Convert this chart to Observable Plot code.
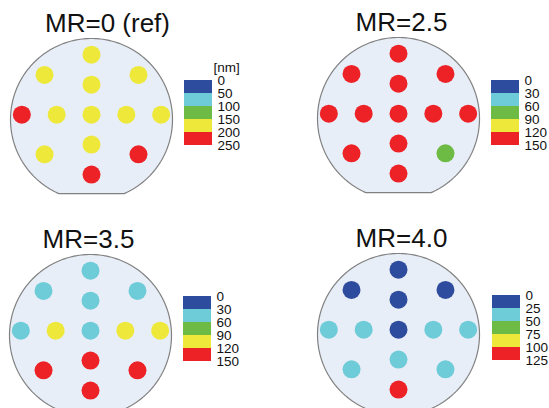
<!DOCTYPE html>
<html><head><meta charset="utf-8">
<script src="https://cdn.jsdelivr.net/npm/d3@7"></script>
<script src="https://cdn.jsdelivr.net/npm/@observablehq/plot@0.6"></script>
<style>
html,body{margin:0;padding:0;background:#fff;}
#chart{position:relative;width:549px;height:408px;overflow:hidden;font-family:"Liberation Sans",Arial,sans-serif;}
.title{position:absolute;width:200px;text-align:center;font-size:26px;line-height:26px;color:#111;white-space:nowrap;}
.abs{position:absolute;}
.abs svg{max-width:none !important;}
</style></head><body><div id="chart"></div>
<script>
// ---- data ----
const titles = ["MR=0 (ref)", "MR=2.5", "MR=3.5", "MR=4.0"];
const unitLabel = "[nm]";
const ticks0 = [0, 50, 100, 150, 200, 250];
const ticks1 = [0, 30, 60, 90, 120, 150];
const ticks2 = [0, 30, 60, 90, 120, 150];
const ticks3 = [0, 25, 50, 75, 100, 125];
// measurement sites on the wafer (mm, y up); order:
// top, upper, center, lower, bottom, left-outer, left-inner, right-inner, right-outer, UL, UR, LL, LR
const siteX = [0, 0, 0, 0, 0, -86, -43, 43, 86, -58, 58, -58, 58];
const siteY = [80, 43, 6, -31, -68, 6, 6, 6, 6, 55, 55, -43, -43];
const values0 = [185, 178, 172, 180, 215, 212, 176, 175, 182, 188, 186, 190, 210];
const values1 = [138, 135, 132, 136, 140, 141, 134, 133, 137, 139, 138, 142, 78];
const values2 = [48, 45, 42, 128, 136, 50, 102, 100, 106, 47, 46, 132, 130];
const values3 = [15, 12, 10, 32, 110, 40, 34, 33, 38, 18, 17, 36, 37];
const binColors = ["#2e4c9d", "#6ecbd8", "#6dbb45", "#ede83a", "#ed2227"];

// ---- layout / style ----
const PX = 0.81;            // px per mm
const R = 100, F = 91.5;     // wafer radius, flat distance (mm)
const W = 184, H = 180, CX = 92, CY = 90;
const layout = [
  {wafer: [90.5, 118.5], legend: [184, 80], title: [107.5, 31.5]},
  {wafer: [397.5, 117.5], legend: [491, 80], title: [401.5, 31]},
  {wafer: [89.5, 334.5], legend: [183, 296], title: [88.5, 248]},
  {wafer: [398, 333.5], legend: [492, 295], title: [401.5, 246.5]}
];
const allTicks = [ticks0, ticks1, ticks2, ticks3];
const allValues = [values0, values1, values2, values3];
const FONT = "Liberation Sans, Arial, sans-serif";

const alpha = Math.acos(F / R);
const outline = d3.range(0, 241).map(i => {
  const phi = -Math.PI / 2 + alpha + (2 * Math.PI - 2 * alpha) * i / 240;
  return {x: R * Math.cos(phi), y: R * Math.sin(phi)};
});

const chart = document.getElementById("chart");
const LM_TOP = 24, LM_BOT = 10, BOX_W = 28, BOX_H = 65, LW = 80;

titles.forEach((title, p) => {
  const ticks = allTicks[p];
  const vals = allValues[p];
  const L = layout[p];
  const color = {type: "threshold", domain: ticks.slice(1, -1), range: binColors};
  const sites = vals.map((v, i) => ({x: siteX[i], y: siteY[i], value: v}));

  const wafer = Plot.plot({
    width: W, height: H, margin: 0,
    style: {background: "none", overflow: "visible", fontFamily: FONT, maxWidth: "none"},
    x: {domain: [-CX / PX, (W - CX) / PX], range: [0, W], axis: null},
    y: {domain: [-(H - CY) / PX, CY / PX], range: [H, 0], axis: null},
    color,
    marks: [
      Plot.line(outline, {x: "x", y: "y", curve: "linear-closed", fill: "#e8eef7", stroke: "#808080", strokeWidth: 1.2}),
      Plot.dot(sites, {x: "x", y: "y", r: 9, fill: "value", stroke: "none"})
    ]
  });
  const wdiv = document.createElement("div");
  wdiv.className = "abs";
  wdiv.style.left = (L.wafer[0] - CX) + "px";
  wdiv.style.top = (L.wafer[1] - CY) + "px";
  wdiv.style.width = W + "px";
  wdiv.appendChild(wafer);
  chart.appendChild(wdiv);

  const bins = d3.range(ticks.length - 1).map(i => ({lo: ticks[i], hi: ticks[i + 1], mid: (ticks[i] + ticks[i + 1]) / 2}));
  const legendMarks = [
    Plot.rect(bins, {x1: () => 0, x2: () => 1, y1: "lo", y2: "hi", fill: "mid"}),
    Plot.text(ticks, {x: () => 1, y: d => d, text: d => String(d), dx: 5, textAnchor: "start", fontSize: 13.5, fill: "#111"})
  ];
  if (p === 0) legendMarks.push(Plot.text([unitLabel], {x: () => 1, y: () => ticks[0], text: d => d, dx: 1, dy: -13, textAnchor: "start", fontSize: 13.5, fill: "#111"}));
  const legend = Plot.plot({
    width: LW, height: LM_TOP + BOX_H + LM_BOT,
    marginTop: LM_TOP, marginBottom: LM_BOT, marginLeft: 0, marginRight: LW - BOX_W,
    style: {background: "none", overflow: "visible", fontFamily: FONT, maxWidth: "none"},
    x: {domain: [0, 1], axis: null},
    y: {domain: [ticks[0], ticks[ticks.length - 1]], reverse: true, axis: null},
    color,
    marks: legendMarks
  });
  const ldiv = document.createElement("div");
  ldiv.className = "abs";
  ldiv.style.left = L.legend[0] + "px";
  ldiv.style.top = (L.legend[1] - LM_TOP) + "px";
  ldiv.style.width = LW + "px";
  ldiv.appendChild(legend);
  chart.appendChild(ldiv);

  const t = document.createElement("div");
  t.className = "title";
  t.textContent = title;
  t.style.left = (L.title[0] - 100) + "px";
  t.style.top = (L.title[1] - 22) + "px";
  chart.appendChild(t);
});
</script></body></html>
